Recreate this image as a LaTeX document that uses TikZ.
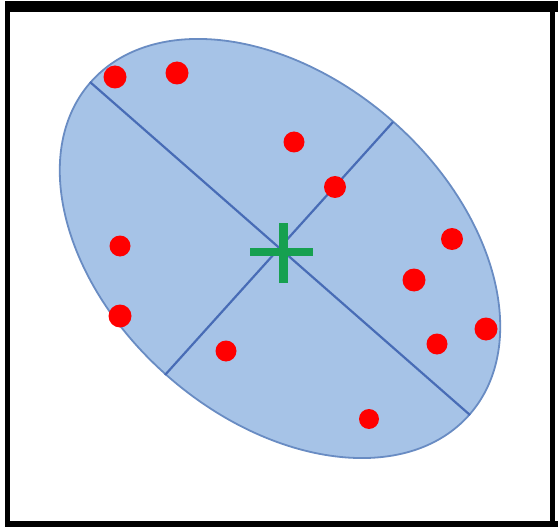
\documentclass[tikz,border=0pt]{standalone}
\definecolor{ellfill}{RGB}{166,195,231}
\definecolor{elledge}{RGB}{105,140,195}
\definecolor{axiscol}{RGB}{72,108,182}
\definecolor{dotred}{RGB}{255,0,0}
\definecolor{plusgreen}{RGB}{22,160,80}
\tikzset{
  datadot/.style={fill=dotred, draw=none},
  axisline/.style={draw=axiscol, line width=2.2pt},
  plusarm/.style={draw=plusgreen, line width=8pt}
}
\begin{document}
\begin{tikzpicture}[x=1pt,y=-1pt]
\useasboundingbox (0,0) rectangle (558,527);
\fill[white] (0,0) rectangle (558,527);
% frame
\fill[black] (5,1) rectangle (558,12);
\fill[black] (5,1) rectangle (10,527);
\fill[black] (550,1) rectangle (555,527);
\fill[black] (5,521) rectangle (558,527);
% ellipse
\coordinate (c) at (280,248.5);
\draw[fill=ellfill, draw=elledge, line width=1.8pt, rotate around={-41.2:(c)}] (c) ellipse [x radius=252, y radius=170];
% axes
\coordinate (a1) at (90,82);
\coordinate (a2) at (470,415);
\coordinate (b1) at (393,122);
\coordinate (b2) at (165,375);
\draw[axisline] (a1) -- (a2);
\draw[axisline] (b1) -- (b2);
% dots
\foreach \x/\y/\r in {115/77/11.5, 177/73/11.5, 294/142/10.5, 335/187/11, 120/246/10.5, 120/316/11.5, 226/351/10.5, 452/239/11, 414/280/11.5, 486/329/11.5, 437/344/10.5, 369/419/10}
  \fill[datadot] (\x,\y) circle (\r);
% plus
\coordinate (p) at (283,252);
\draw[plusarm] ([xshift=-33pt]p) -- ([xshift=30pt]p);
\draw[plusgreen, line width=9pt] ([yshift=-31pt]p) -- ([yshift=29pt]p);
\end{tikzpicture}
\end{document}
